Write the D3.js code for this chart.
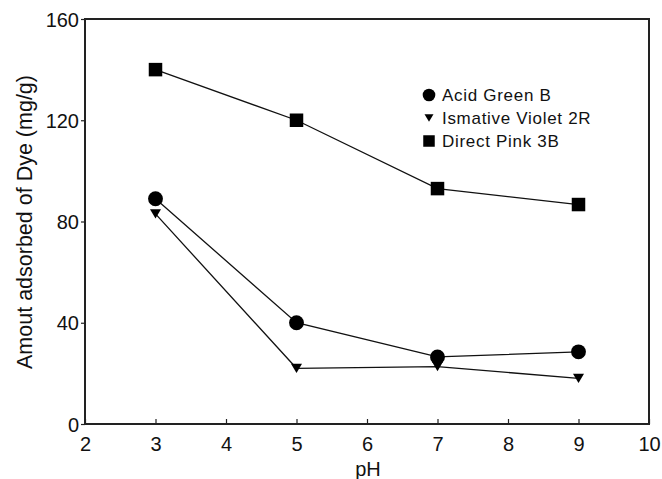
<!DOCTYPE html>
<html>
<head>
<meta charset="utf-8">
<script src="https://cdn.jsdelivr.net/npm/d3@7"></script>
<style>
  body { margin: 0; background: #fff; }
  svg text { font-family: "Liberation Sans", Arial, sans-serif; fill: #111; }
</style>
</head>
<body>
<div id="chart"></div>
<script>
// pH values and dye uptake (mg/g)
const phValues = [3, 5, 7, 9];
const acidGreenB = [89, 40, 26.5, 28.5];
const ismativeViolet2R = [83, 22, 22.7, 18];
const directPink3B = [140, 120, 93, 86.7];

const xTicks = [2, 3, 4, 5, 6, 7, 8, 9, 10];
const yTicks = [0, 40, 80, 120, 160];

const seriesNames = ["Acid Green B", "Ismative Violet 2R", "Direct Pink 3B"];
const seriesValues = [acidGreenB, ismativeViolet2R, directPink3B];
const seriesSymbols = ["circle", "triangle", "square"];

const width = 662, height = 479;
const margin = { top: 19, right: 13, bottom: 55, left: 85 };

const svg = d3.select("#chart").append("svg")
    .attr("width", width)
    .attr("height", height);

const x = d3.scaleLinear().domain([2, 10]).range([margin.left, width - margin.right]);
const y = d3.scaleLinear().domain([0, 160]).range([height - margin.bottom, margin.top]);

// Axes
const xAxis = svg.append("g")
    .attr("transform", `translate(0,${height - margin.bottom})`)
    .call(d3.axisBottom(x).tickValues(xTicks).tickSizeInner(-5).tickSizeOuter(0).tickPadding(13));
xAxis.select(".domain").remove();
xAxis.selectAll("line").attr("stroke", "#222").attr("stroke-width", 1.2);
xAxis.selectAll("text").style("font-size", "20px");

const yAxis = svg.append("g")
    .attr("transform", `translate(${margin.left},0)`)
    .call(d3.axisLeft(y).tickValues(yTicks).tickSizeInner(4).tickSizeOuter(0).tickPadding(2));
yAxis.select(".domain").remove();
yAxis.selectAll("line").attr("stroke", "#222").attr("stroke-width", 1.2);
yAxis.selectAll("text").style("font-size", "20px").attr("dy", "0.36em");

// Frame
svg.append("rect")
    .attr("x", margin.left)
    .attr("y", margin.top)
    .attr("width", width - margin.left - margin.right)
    .attr("height", height - margin.top - margin.bottom)
    .attr("fill", "none")
    .attr("stroke", "#222")
    .attr("stroke-width", 2);

// Axis titles
svg.append("text")
    .attr("x", x(6) + 1)
    .attr("y", 476)
    .attr("text-anchor", "middle")
    .style("font-size", "20px")
    .text("pH");

svg.append("text")
    .attr("transform", "translate(32,222) rotate(-90)")
    .attr("text-anchor", "middle")
    .style("font-size", "21.5px")
    .text("Amout adsorbed of Dye (mg/g)");

// Marker helper
function drawSymbol(g, kind, cx, cy, s) {
    if (kind === "circle") {
        g.append("circle").attr("cx", cx).attr("cy", cy).attr("r", s * 0.55).attr("fill", "#000");
    } else if (kind === "square") {
        g.append("rect").attr("x", cx - s / 2).attr("y", cy - s / 2)
            .attr("width", s).attr("height", s).attr("fill", "#000");
    } else {
        const h = s * 0.85;
        g.append("path")
            .attr("d", `M${cx - s / 2},${cy - h / 2}L${cx + s / 2},${cy - h / 2}L${cx},${cy + h / 2}Z`)
            .attr("fill", "#000");
    }
}

const line = d3.line().x(d => x(d[0])).y(d => y(d[1]));

seriesValues.forEach((vals, i) => {
    const pts = phValues.map((p, j) => [p, vals[j]]);
    svg.append("path")
        .datum(pts)
        .attr("d", line)
        .attr("fill", "none")
        .attr("stroke", "#111")
        .attr("stroke-width", 1.3);
    const g = svg.append("g");
    const size = seriesSymbols[i] === "triangle" ? 11 : 13.5;
    pts.forEach(d => drawSymbol(g, seriesSymbols[i], x(d[0]), y(d[1]), size));
});

// Legend
const legend = svg.append("g");
seriesNames.forEach((name, i) => {
    const ly = 95 + i * 23;
    const size = seriesSymbols[i] === "triangle" ? 9 : 11.5;
    drawSymbol(legend, seriesSymbols[i], 429, ly, size);
    legend.append("text")
        .attr("x", 442)
        .attr("y", ly)
        .attr("dy", "0.36em")
        .style("font-size", "17px")
        .style("letter-spacing", "0.7px")
        .text(name);
});
</script>
</body>
</html>
